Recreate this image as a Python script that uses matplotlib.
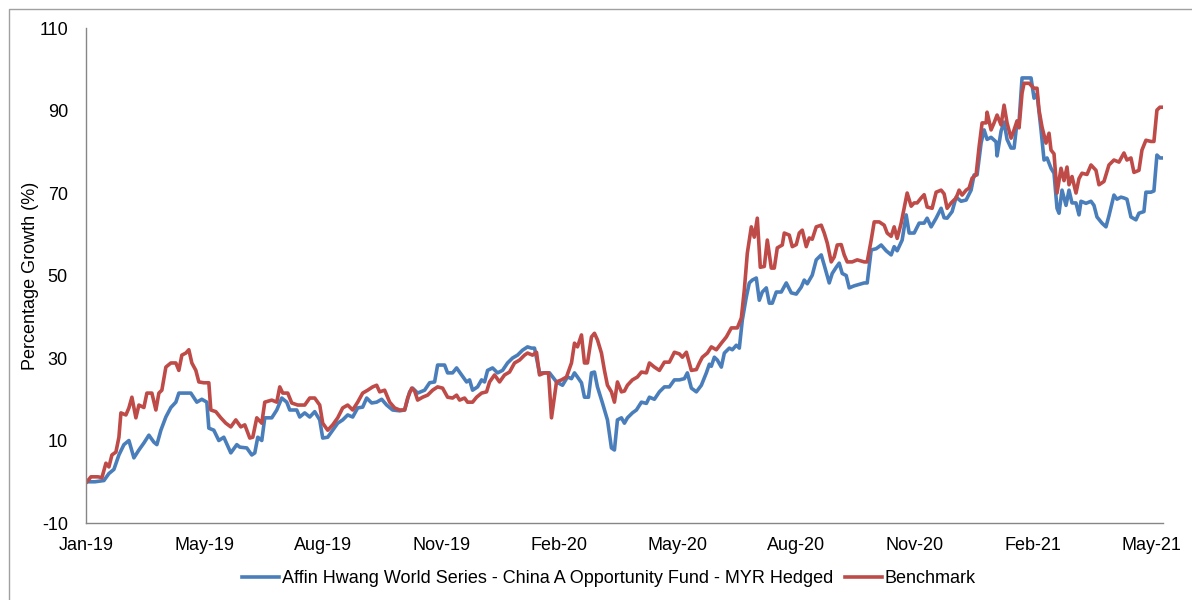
import numpy as np
import matplotlib
matplotlib.use('Agg')
import matplotlib.pyplot as plt
from matplotlib.lines import Line2D

plt.rcParams['font.family'] = ['Liberation Sans', 'DejaVu Sans']
plt.rcParams['axes.unicode_minus'] = False

# trading-day index and percentage growth
fund_day = [0.5, 4.5, 9, 11.5, 14, 16.5, 19, 21.5, 24, 26.5, 29, 31.5, 34, 35.5, 37.5, 40, 42.5, 45, 46.5, 49,
            52.5, 55.5, 58, 60.5, 61.5, 64, 66.5, 69, 72.5, 75.5, 77, 80.5, 83, 84.5, 86, 88, 89.5, 93, 95.5, 98,
            100.5, 102, 105.5, 107, 109.5, 112, 114.5, 117, 118.5, 121, 123.5, 126, 128.5, 131, 133.5, 136, 138.5,
            140.5, 143, 145.5, 148, 150.5, 153.5, 157, 159.5, 162, 163.5, 166, 169.5, 172, 174.5, 176, 179.5, 181,
            183.5, 185.5, 188, 190.5, 192, 193.5, 196, 198, 199.5, 201, 203.5, 206, 208.5, 211, 213.5, 216, 218.5,
            221, 223, 224.5, 227, 229.5, 232, 235.5, 238.5, 241, 243, 244.5, 246, 248, 249.5, 251.5, 253, 254.5,
            256, 258.5, 261, 263, 264.5, 266, 268, 269.5, 271, 273.5, 275.5, 278, 280.5, 282, 284.5, 287, 289.5,
            292, 294.5, 297, 299.5, 301, 303, 305.5, 308, 310.5, 312, 313, 314.5, 316, 318, 319.5, 322, 323.5,
            325.5, 327, 328.5, 330.5, 332, 333.5, 335.5, 337, 338.5, 340.5, 342, 343.5, 345.5, 348, 350.5, 353,
            355.5, 358, 359.5, 361, 363.5, 365.5, 368, 369.5, 372, 373.5, 375.5, 377, 378.5, 380.5, 382, 384.5,
            389.5, 391, 393, 395.5, 398, 400.5, 403, 404.5, 406, 408.5, 410.5, 412, 414.5, 417, 419.5, 421, 423,
            425.5, 428, 429.5, 431, 433.5, 435.5, 438, 440.5, 443, 444.5, 446, 448, 449.5, 451, 453, 455.5, 456,
            458, 459.5, 461, 463, 464.5, 466, 467, 468.5, 473, 474.5, 476, 478, 479.5, 481, 483, 484.5, 486, 487,
            488.5, 490.5, 492, 493.5, 495.5, 497, 498, 500.5, 503, 504.5, 506, 508.5, 510.5, 512, 514.5, 516, 518,
            519.5, 521, 523, 525.5, 527, 529.5, 530.5, 533, 534.5, 536, 537.5, 539]
fund_val = [0, 0, 0.3, 2, 3, 6.5, 9, 10, 5.8, 7.7, 9.4, 11.3, 9.6, 9, 12.5, 15.7, 18, 19.3, 21.5, 21.5,
            21.5, 19.3, 20, 19.3, 13, 12.5, 10, 10.8, 7, 9, 8.4, 8.2, 6.5, 7, 10.8, 10, 15.5, 15.5, 17.4, 20.3,
            19.3, 17.4, 17.4, 15.7, 16.7, 15.7, 17, 15, 10.6, 10.8, 12.5, 14.2, 15, 16.2, 15.7, 17.9, 18.1,
            20.3, 19.1, 19.3, 20, 18.6, 17.4, 17.2, 17.4, 21.8, 22.7, 21.5, 22.2, 24, 24.2, 28.3, 28.3, 26.4,
            26.4, 27.6, 25.9, 24.2, 24.7, 22.2, 23, 24.7, 24.2, 27, 27.6, 26.4, 27, 28.8, 30, 30.7, 31.9,
            32.7, 32.4, 32.4, 26.4, 26.4, 26.4, 24.2, 23.4, 25.4, 25, 26.4, 25.4, 24, 20.5, 20.5, 26.4, 26.6,
            23, 19.1, 15, 8.2, 7.7, 15, 15.5, 14.2, 15.5, 16.7, 17.4, 19.3, 19, 20.5, 20, 21.8, 23,
            23, 24.7, 24.7, 25, 26.4, 22.7, 21.8, 23.4, 26.4, 28.5, 28, 30.2, 29.5, 27.8, 31.2, 32.4, 32,
            33.1, 32.4, 39.2, 44.8, 48.2, 48.9, 49.4, 44, 46, 47, 43.3, 43.3, 46, 46, 48.2, 45.8,
            45.5, 47.2, 48.9, 48, 50.1, 53.8, 55, 52.5, 48.2, 50.5, 52, 53, 50.5, 50, 47, 47.5,
            48.2, 48.2, 56.2, 56.5, 57.4, 56, 55, 57, 56, 58.6, 64.7, 60.3, 60.3, 62.7, 62.7, 63.9, 61.8,
            63.9, 66.3, 64, 63.9, 65.5, 69, 68, 68.3, 70.7, 74.4, 74.4, 82.1, 85.3, 83, 83.5, 82.4, 79,
            85, 87.2, 83, 80.9, 80.9, 87.2, 87.2, 97.9, 97.9, 93, 94, 85.3, 78, 78.5, 76, 74.8, 66.3, 65.1,
            70.7, 67, 70.7, 67.6, 67.6, 64.7, 68, 67.5, 68, 67, 64.2, 62.7, 61.8, 64.5, 69.5, 68.5, 69,
            68.8, 68.5, 64.2, 63.5, 65.1, 65.5, 70.2, 70.2, 70.5, 79.2, 78.5, 78.5]

bench_day = [0.5, 2.5, 6, 8, 10, 11.5, 13, 15, 16.5, 17.5, 20, 21.5, 23, 25, 26.5, 29, 30.5, 33, 35, 36.5,
             38, 40, 42.5, 45, 46.5, 48, 50, 51.5, 53, 55, 56.5, 59, 61.5, 62.5, 65, 67.5, 70, 72.5, 75, 77.5,
             79.5, 82, 83.5, 85.5, 88, 89.5, 93, 95.5, 97, 98.5, 101, 103, 106, 109.5, 112, 114.5, 117, 118.5,
             121, 123.5, 126, 128.5, 131, 133.5, 136, 138.5, 141, 143.5, 145.5, 147, 149.5, 152, 154.5, 157,
             159.5, 161, 163, 164.5, 166, 168.5, 171, 173.5, 176, 178.5, 181, 183.5, 185.5, 187, 189.5, 191,
             193.5, 195.5, 198, 200.5, 202, 204.5, 207, 209.5, 212, 214.5, 217, 219.5, 221, 223.5, 225.5, 227,
             229.5, 231.5, 233, 235.5, 238, 240.5, 243, 244.5, 246, 248, 249.5, 251, 253, 254.5, 256, 258,
             259.5, 261, 263, 264.5, 266, 268, 269.5, 271, 273.5, 276, 278, 280.5, 282, 284.5, 287, 289.5,
             292, 294.5, 297, 298.5, 300.5, 303, 305.5, 307, 308.5, 311, 313, 315.5, 318, 320.5, 323, 326,
             328, 329.5, 331, 333, 334.5, 336, 337.5, 339.5, 341, 343, 344.5, 346, 348.5, 349.5, 352, 353.5,
             355.5, 357, 358.5, 360.5, 362, 363.5, 365.5, 368, 369.5, 371, 373, 374.5, 376, 378, 379.5, 381,
             383.5, 386, 389.5, 391, 393, 394.5, 397, 399.5, 401, 403, 404.5, 406, 408, 409.5, 411, 413, 414.5,
             416, 418, 419.5, 421, 423.5, 425.5, 428, 429.5, 431, 433, 435.5, 437, 438.5, 440.5, 442, 443.5,
             445.5, 447, 448.5, 450.5, 451, 453, 454.5, 456, 458, 459.5, 461, 463, 464.5, 466, 467, 468.5,
             469.5, 472, 474.5, 476, 477, 478.5, 480.5, 482, 483, 484.5, 486, 488, 489.5, 491, 492, 493.5,
             495.5, 497, 498.5, 501, 503, 505.5, 507, 509.5, 512, 514.5, 517, 519.5, 521, 523, 524.5, 527,
             528.5, 530.5, 533, 534.5, 536, 537.5, 539]
bench_val = [0, 1.2, 1.2, 1, 4.5, 3.6, 6.5, 7.2, 10.8, 16.7, 16.2, 17.9, 20.5, 15.5, 18.6, 18, 21.5, 21.5,
             17.4, 21.5, 22.2, 27.8, 28.8, 28.8, 27, 30.7, 31.2, 32, 28.8, 27, 24.2, 24, 24, 17.4, 17, 15.5,
             14.2, 13.3, 15, 13.3, 13.8, 10.6, 10.8, 15.5, 14.2, 19.3, 19.8, 19.3, 23, 21.5, 21.5, 19.1, 18.6,
             18.6, 20.3, 20.3, 18.6, 14.2, 12.5, 13.8, 15.5, 17.9, 18.6, 17.4, 19.3, 21.5, 22.2, 23, 23.4,
             21.8, 22.2, 19.3, 17.9, 17.4, 17.4, 20.3, 22.7, 22, 19.8, 20.5, 21, 22.2, 23, 22.7, 20.5, 20.3,
             21, 19.8, 20.3, 19.3, 19.3, 20.5, 21.5, 21.8, 24.2, 25.9, 24.2, 25.9, 26.6, 28.8, 29.5, 30.7,
             31.2, 30.7, 31.4, 25.9, 26.4, 26.4, 15.5, 24.2, 24.7, 25.4, 28.8, 33.6, 32.7, 35.6, 28.8, 28.8,
             35.1, 36, 34.4, 31.2, 27, 23.4, 21.8, 19.3, 24.2, 21.8, 22, 23.4, 24.7, 25.4, 26.6, 26.4, 28.8,
             27.8, 27, 29, 29, 31.4, 31, 30.2, 31.4, 27, 27.2, 28.8, 30.2, 31.2, 32.7, 32, 33.6, 35.1, 37.3,
             37.3, 39.7, 46.5, 55.4, 61.8, 59.3, 63.9, 52, 52.2, 58.6, 51.8, 51.8, 56.7, 57.4, 60.3, 59.8,
             57, 57.5, 60.3, 61, 57, 59.1, 58.8, 61.8, 62.2, 60.3, 57.9, 53.3, 54.5, 57.4, 57.5, 55, 53.3,
             53.3, 53.8, 53.3, 53.3, 58.6, 63, 63, 62.2, 60.3, 59.5, 61.8, 59, 62.7, 66.3, 70, 66.8, 67.6,
             67.6, 68.8, 69.6, 66.6, 66.3, 70.2, 70.7, 69.8, 66.3, 67.6, 68.8, 70.7, 69.5, 70.7, 71.2, 73.6,
             74.4, 81.2, 87, 87, 89.6, 85.3, 87, 88.9, 86.5, 91.3, 87, 83.3, 85.3, 87.5, 85.8, 94.2, 96.6,
             96.6, 95.4, 95.4, 90.1, 86, 82.1, 84.5, 80.4, 79.5, 70, 76, 73, 76.3, 72, 74, 70, 73.5, 74.8,
             74.5, 76.8, 75.5, 72, 72.8, 76.8, 78, 77.5, 79.7, 78, 78.5, 75, 75.5, 80.4, 82.8, 82.5, 82.5,
             90.1, 90.8, 90.8]

tick_labels = ['Jan-19', 'May-19', 'Aug-19', 'Nov-19', 'Feb-20', 'May-20', 'Aug-20', 'Nov-20', 'Feb-21', 'May-21']
tick_step = 59.25

fig = plt.figure(figsize=(11.92, 6), dpi=100)
ax = fig.add_axes([0.0721, 0.1283, 0.9035, 0.825])

ax.plot(fund_day, fund_val, color='#4a7ebb', lw=2.6, solid_joinstyle='round',
        label='Affin Hwang World Series - China A Opportunity Fund - MYR Hedged')
ax.plot(bench_day, bench_val, color='#be4b48', lw=2.6, solid_joinstyle='round', label='Benchmark')

ax.set_xlim(0, 539)
ax.set_ylim(-10, 110)
ax.set_yticks(np.arange(-10, 111, 20))
ax.set_xticks(np.arange(len(tick_labels)) * tick_step)
ax.set_xticklabels(tick_labels)
ax.tick_params(axis='both', length=0, labelsize=13, colors='#000000')
ax.tick_params(axis='y', pad=13)
ax.tick_params(axis='x', pad=10)
for s in ['top', 'right']:
    ax.spines[s].set_visible(False)
for s in ['left', 'bottom']:
    ax.spines[s].set_color('#868686')
    ax.spines[s].set_linewidth(1)
ax.set_ylabel('Percentage Growth (%)', fontsize=13)
ax.yaxis.set_label_coords(-0.044, 0.5)

fig.legend(loc='center', bbox_to_anchor=(0.511, 0.036), ncol=2, frameon=False, fontsize=13,
           handlelength=2.05, handletextpad=0.15, columnspacing=0.65)

# outer chart border (only top and left visible in the picture)
fig.add_artist(Line2D([9 / 1192, 9 / 1192, 1], [0, 1 - 9 / 600, 1 - 9 / 600],
                      transform=fig.transFigure, color='#a0a0a0', lw=1))

fig.savefig('out.png', dpi=100)
